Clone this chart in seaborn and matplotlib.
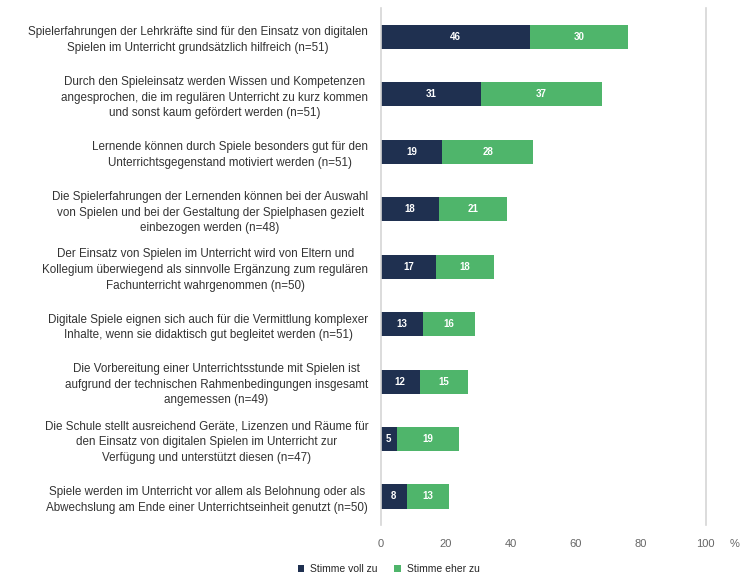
import matplotlib
matplotlib.use("Agg")
import matplotlib.pyplot as plt
import seaborn as sns
import pandas as pd

# Aussagen (Zeilen), Anteile in Prozent
statements = [
    "Spielerfahrungen der Lehrkräfte sind für den Einsatz von digitalen\nSpielen im Unterricht grundsätzlich hilfreich (n=51)",
    "Durch den Spieleinsatz werden Wissen und Kompetenzen\nangesprochen, die im regulären Unterricht zu kurz kommen\nund sonst kaum gefördert werden (n=51)",
    "Lernende können durch Spiele besonders gut für den\nUnterrichtsgegenstand motiviert werden (n=51)",
    "Die Spielerfahrungen der Lernenden können bei der Auswahl\nvon Spielen und bei der Gestaltung der Spielphasen gezielt\neinbezogen werden (n=48)",
    "Der Einsatz von Spielen im Unterricht wird von Eltern und\nKollegium überwiegend als sinnvolle Ergänzung zum regulären\nFachunterricht wahrgenommen (n=50)",
    "Digitale Spiele eignen sich auch für die Vermittlung komplexer\nInhalte, wenn sie didaktisch gut begleitet werden (n=51)",
    "Die Vorbereitung einer Unterrichtsstunde mit Spielen ist\naufgrund der technischen Rahmenbedingungen insgesamt\nangemessen (n=49)",
    "Die Schule stellt ausreichend Geräte, Lizenzen und Räume für\nden Einsatz von digitalen Spielen im Unterricht zur\nVerfügung und unterstützt diesen (n=47)",
    "Spiele werden im Unterricht vor allem als Belohnung oder als\nAbwechslung am Ende einer Unterrichtseinheit genutzt (n=50)",
]
voll_zu = [46, 31, 19, 18, 17, 13, 12, 5, 8]
eher_zu = [30, 37, 28, 21, 18, 16, 15, 19, 13]
series_names = ["Stimme voll zu", "Stimme eher zu"]
x_ticks = [0, 20, 40, 60, 80, 100]

dark = "#1f3050"
green = "#4fb56b"

df = pd.DataFrame({
    "Aussage": statements,
    series_names[0]: voll_zu,
    series_names[1]: eher_zu,
})
df["gesamt"] = df[series_names[0]] + df[series_names[1]]

sns.set_theme(style="white")
plt.rcParams["font.family"] = ["Liberation Sans", "DejaVu Sans"]

fig = plt.figure(figsize=(7.42, 5.81), dpi=100)
ax = fig.add_axes([0.513, 0.096, 0.438, 0.890])

# gestapelte Balken: Gesamtbalken in Grün, darüber der dunkle Anteil
sns.barplot(data=df, y="Aussage", x="gesamt", orient="h", color=green,
            width=0.42, saturation=1, linewidth=0, ax=ax,
            label=series_names[1])
sns.barplot(data=df, y="Aussage", x=series_names[0], orient="h", color=dark,
            width=0.42, saturation=1, linewidth=0, ax=ax,
            label=series_names[0])

# Werte in die Segmente schreiben
for i, (a, b) in enumerate(zip(voll_zu, eher_zu)):
    ax.text(a / 2, i, str(a), ha="center", va="center", color="white",
            fontsize=7, fontweight="bold")
    ax.text(a + b / 2, i, str(b), ha="center", va="center", color="white",
            fontsize=7, fontweight="bold")

ax.set_xlim(0, 100)
ax.set_ylim(len(statements) - 0.5, -0.5)
ax.set_xticks(x_ticks)
ax.set_xticklabels([str(t) for t in x_ticks], color="#666666", fontsize=8)
ax.tick_params(axis="x", length=0, pad=10)
ax.tick_params(axis="y", length=0, pad=9)
ax.set_yticks(range(len(statements)))
ax.set_yticklabels(statements, fontsize=8.4, color="#333333",
                   multialignment="center", linespacing=1.4)
ax.set_xlabel("")
ax.set_ylabel("")
ax.text(1.09, -0.0355, "%", transform=ax.transAxes, ha="center",
        va="center", fontsize=8, color="#666666")

for side in ("top", "bottom"):
    ax.spines[side].set_visible(False)
for side in ("left", "right"):
    ax.spines[side].set_color("#d6d6d6")
    ax.spines[side].set_linewidth(1.2)

handles, labels = ax.get_legend_handles_labels()
order = [labels.index(n) for n in series_names]
ax.legend([handles[k] for k in order], [labels[k] for k in order],
          loc="lower center", bbox_to_anchor=(0.524, -0.004),
          bbox_transform=fig.transFigure, ncol=2, frameon=False,
          fontsize=7.5, handlelength=0.6, handleheight=0.6,
          columnspacing=1.6, handletextpad=0.6)

fig.savefig("out.png", dpi=100)
